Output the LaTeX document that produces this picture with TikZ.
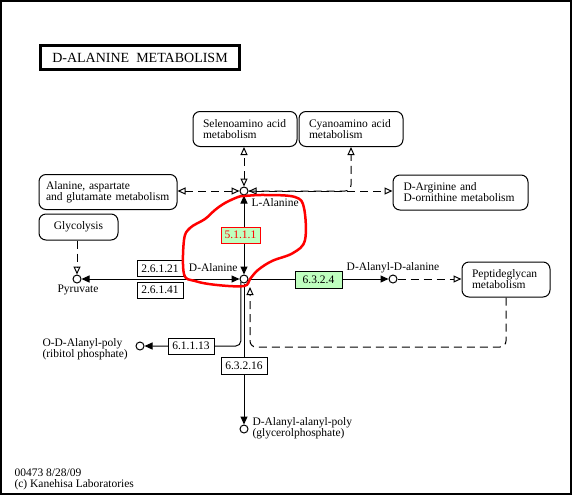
\documentclass[tikz,border=0pt]{standalone}
\usepackage{fontspec}
\setmainfont{Liberation Serif}
\usetikzlibrary{arrows.meta,positioning}
\newcommand\mapfont{\fontsize{11.5}{11}\selectfont}
\definecolor{enzgreen}{HTML}{BFFFBF}

\begin{document}
\begin{tikzpicture}[x=1pt,y=-1pt,
    font=\mapfont, line width=1pt,
    cpd/.style={circle,draw,fill=white,inner sep=0pt,minimum size=8pt},
    pmap/.style={draw,rounded corners=7pt,align=left,inner ysep=0pt,minimum height=35pt},
    enz/.style={draw,fill=white,inner sep=0pt,minimum width=46pt,minimum height=16pt},
    hit/.style={enz,fill=enzgreen},
    lbl/.style={inner sep=0pt},
    rxn/.style={-{Triangle[length=8pt,width=7pt]}},
    rxn2/.style={{Triangle[length=8pt,width=7pt]}-{Triangle[length=8pt,width=7pt]}},
    maplink/.style={dash pattern=on 8pt off 5pt,-{Triangle[open,length=8pt,width=7pt]}},
    maplink2/.style={dash pattern=on 8pt off 5pt,{Triangle[open,length=8pt,width=7pt]}-{Triangle[open,length=8pt,width=7pt]}}]
  \useasboundingbox (0,0) rectangle (573,496);
  \draw[line width=1.5pt] (1,1) rectangle (571,494);

  % title
  \node[draw,line width=3pt,minimum width=199pt,minimum height=24pt,inner sep=0pt,
    font=\fontsize{14}{14}\selectfont] (title) at (140,57.5) {D-ALANINE\ \ METABOLISM};

  % pathway maps
  \node[pmap,text width=84pt,inner xsep=10pt] (selmet) at (245,129) {Selenoamino acid\\metabolism};
  \node[pmap,text width=84pt,inner xsep=10pt] (cyanmet) at (351,129) {Cyanoamino acid\\metabolism};
  \node[pmap,text width=124pt,inner xsep=7pt] (alamet) at (108,192) {Alanine, aspartate\\and glutamate metabolism};
  \node[pmap,minimum width=79pt,minimum height=26pt,align=center] (glycol) at (78.5,227) {Glycolysis};
  \node[pmap,text width=114pt,inner xsep=10.5pt] (argmet) at (460.5,192.5) {D-Arginine and\\D-ornithine metabolism};
  \node[pmap,text width=68pt,inner xsep=10pt] (pepmet) at (506,279.5) {Peptideglycan\\metabolism};

  % compounds
  \node[cpd] (lala) at (244,191) {};
  \node[cpd] (dala) at (244,279) {};
  \node[cpd] (pyr) at (77,279) {};
  \node[cpd] (dalada) at (393,279) {};
  \node[cpd] (odala) at (140,346) {};
  \node[cpd] (dalapoly) at (244,429) {};

  \node[lbl,anchor=west] (lalaT) at (251,203) {L-Alanine};
  \node[lbl,anchor=east] (dalaT) at (238,268) {D-Alanine};
  \node[lbl] (pyrT) at (78,290) {Pyruvate};
  \node[lbl] (daladaT) at (393,268) {D-Alanyl-D-alanine};
  \node[lbl,anchor=west,align=left] (odalaT) at (42,349) {O-D-Alanyl-poly\\(ribitol phosphate)};
  \node[lbl,anchor=west,align=left] (dalapolyT) at (252,428) {D-Alanyl-alanyl-poly\\(glycerolphosphate)};
  \node[lbl,anchor=west,align=left] (stamp) at (14,479) {00473 8/28/09\\(c) Kanehisa Laboratories};

  % reactions
  \draw[rxn2] (lala) -- (dala);
  \draw[rxn2] (dala) -- (pyr);
  \draw[rxn] (dala) -- (dalada);
  \draw[rxn,rounded corners=5pt] (dala.south west) |- (odala);
  \draw[rxn] (dala) -- (dalapoly);

  % map links
  \coordinate (dalaIn) at (250,287);
  \coordinate (loopTurn) at (250,347);
  \draw[maplink] (glycol.south -| pyr) -- (pyr);
  \draw[maplink2] (lala) -- (lala -| alamet.east);
  \draw[maplink2] (lala) -- (lala |- selmet.south);
  \draw[maplink2] (lala) -- (lala -| argmet.west);
  \draw[maplink,rounded corners=6pt] (lala) -| (cyanmet);
  \draw[maplink] (dalada) -- (dalada -| pepmet.west);
  \draw[maplink,rounded corners=6pt] (pepmet.south) |- (loopTurn) -- (dalaIn);

  % enzymes
  \node[hit,draw=red,text=red,minimum width=39pt] (e5111) at (240.5,235) {5.1.1.1};
  \node[enz] (e26121) at (160,268.5) {2.6.1.21};
  \node[enz] (e26141) at (160,290) {2.6.1.41};
  \node[hit,minimum width=47pt,minimum height=17pt] (e6324) at (318.5,279.5) {6.3.2.4};
  \node[enz] (e61113) at (191,346) {6.1.1.13};
  \node[enz,minimum height=17pt] (e63216) at (244,365.5) {6.3.2.16};

  % hand-drawn highlight
  \draw[red,line width=2.5pt] plot[smooth cycle,tension=0.6] coordinates {(244,196) (265,195) (295,197)
    (304,208) (305,240) (293,253) (272,261) (258,270) (250,279) (244,286) (217,285) (195,281)
    (184,274) (184,240) (190,228) (205,219) (215,210) (225,203) (238,197)};
\end{tikzpicture}
\end{document}
